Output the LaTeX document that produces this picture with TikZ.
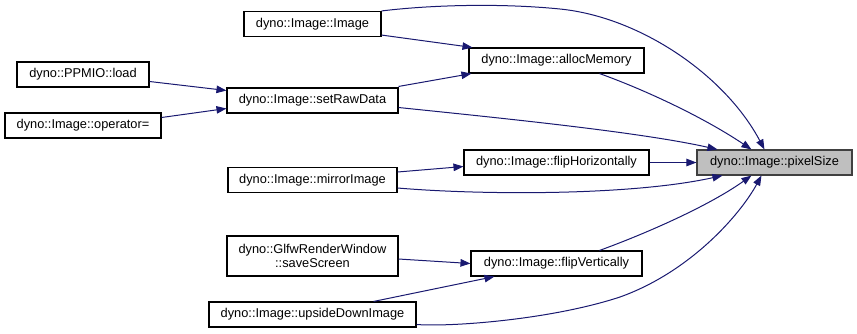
\documentclass[tikz,border=0pt]{standalone}
\usepackage{fontspec}
\setmainfont{Liberation Sans}
\usetikzlibrary{arrows.meta,calc}
\definecolor{edgeblue}{HTML}{191970}
\definecolor{focusgrey}{HTML}{BFBFBF}
\definecolor{focusline}{HTML}{404040}
\tikzset{
  fn/.style={draw=black, fill=white, line width=1.1pt, inner sep=0pt,
    minimum height=25, align=center,
    font=\fontsize{12.8}{14.5}\selectfont},
  focus/.style={fn, fill=focusgrey, draw=focusline},
  call/.style={draw=edgeblue, line width=1pt,
    -{Triangle[length=10pt,width=7.5pt]}, fill=none},
}
\begin{document}
\begin{tikzpicture}[x=1pt,y=-1pt]
\useasboundingbox (0,0) rectangle (857,333);

% functions
\node[fn, minimum width=137] (img)    at (312.5,24)    {dyno::Image::Image};
\node[fn, minimum width=132] (load)   at (83,74.5)     {dyno::PPMIO::load};
\node[fn, minimum width=171] (setraw) at (312.5,100.5) {dyno::Image::setRawData};
\node[fn, minimum width=156] (opeq)   at (83,125.5)    {dyno::Image::operator=};
\node[fn, minimum width=175] (alloc)  at (556.5,60.5)  {dyno::Image::allocMemory};
\node[fn, minimum width=185] (fliph)  at (556.5,162.5) {dyno::Image::flipHorizontally};
\node[focus, minimum width=155] (pixel) at (774.5,162.5) {dyno::Image::pixelSize};
\node[fn, minimum width=169] (mirror) at (312.5,180)   {dyno::Image::mirrorImage};
\node[fn, minimum width=171, minimum height=40] (save) at (312.5,256)
  {dyno::GlfwRenderWindow\\::saveScreen};
\node[fn, minimum width=207] (upside) at (312.5,314.5) {dyno::Image::upsideDownImage};
\node[fn, minimum width=171] (flipv)  at (556.5,263.5) {dyno::Image::flipVertically};

% callers of setRawData
\draw[call] ($(load.east)+(0,7)$) -- ($(setraw.west)+(0,-10)$);
\draw[call] ($(opeq.east)+(0,-8)$) -- ($(setraw.west)+(0,8)$);

% callers of allocMemory
\draw[call] ($(img.south east)+(0,-2)$) -- ($(alloc.north west)+(4,0)$);
\draw[call] ($(setraw.north east)+(0,-1)$) -- ($(alloc.south west)+(3,0)$);

% callers of flipHorizontally / flipVertically
\draw[call] ($(mirror.east)+(0,-8)$) -- ($(fliph.west)+(0,4)$);
\draw[call] ($(save.east)+(0,3)$) -- (flipv.west);
\draw[call] ($(upside.north east)+(-43,0)$) -- ($(flipv.south west)+(24,0)$);

% callers of pixelSize
\draw[call] (img.north east) .. controls (430,5) and (500,3) .. (560,9)
  .. controls (640,17) and (725,75) .. ($(pixel.north west)+(68,0)$);
\draw[call] ($(setraw.east)+(0,7)$) .. controls (500,118) and (640,132)
  .. ($(pixel.north west)+(21,0)$);
\draw[call] ($(alloc.south)+(43,0)$) .. controls (640,88) and (700,115)
  .. ($(pixel.north west)+(55,0)$);
\draw[call] (fliph.east) -- (pixel.west);
\draw[call] ($(mirror.east)+(0,8)$) .. controls (480,195) and (630,196)
  .. ($(pixel.south west)+(26,0)$);
\draw[call] ($(flipv.north)+(43,0)$) .. controls (650,232) and (710,205)
  .. ($(pixel.south west)+(55,0)$);
\draw[call] ($(upside.east)+(0,10)$) .. controls (450,327) and (550,320) .. (620,297)
  .. controls (690,272) and (740,215) .. ($(pixel.south west)+(65,0)$);
\end{tikzpicture}
\end{document}
